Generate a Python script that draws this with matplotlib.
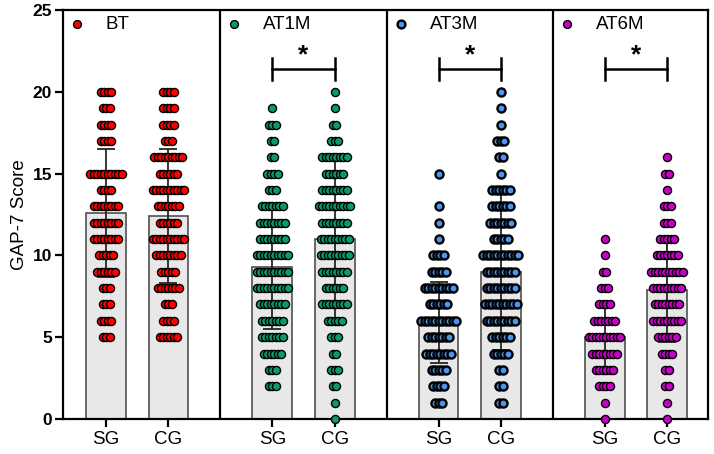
import matplotlib
matplotlib.use("Agg")
import matplotlib.pyplot as plt
import numpy as np

plt.rcParams["font.family"] = ["Liberation Sans", "DejaVu Sans"]

# ---- data ----
TIMEPOINTS = ["BT", "AT1M", "AT3M", "AT6M"]
GROUPS = ["SG", "CG"]
COLORS = ["#ff0000", "#0a9a6c", "#4b96ee", "#c800c8"]
SCORES = list(range(21))  # 0..20, counts below are indexed by score

BT_SG = [0, 0, 0, 0, 0, 3, 4, 3, 3, 6, 5, 8, 8, 8, 4, 10, 0, 4, 4, 3, 4]
BT_CG = [0, 0, 0, 0, 0, 6, 4, 3, 7, 5, 8, 10, 6, 7, 10, 6, 9, 3, 4, 4, 4]
AT1M_SG = [0, 0, 3, 3, 6, 7, 7, 8, 10, 10, 10, 8, 8, 7, 3, 4, 2, 2, 3, 1, 0]
AT1M_CG = [1, 1, 2, 3, 2, 3, 5, 8, 6, 8, 9, 9, 8, 10, 8, 6, 8, 3, 2, 1, 1]
AT3M_SG = [0, 3, 4, 5, 8, 7, 11, 6, 9, 5, 4, 1, 1, 1, 0, 1, 0, 0, 0, 0, 0]
AT3M_CG = [0, 2, 2, 2, 5, 6, 9, 10, 9, 9, 11, 5, 7, 6, 6, 1, 2, 3, 1, 1, 1]
AT6M_SG = [1, 1, 4, 6, 8, 10, 7, 4, 3, 2, 1, 1, 0, 0, 0, 0, 0, 0, 0, 0, 0]
AT6M_CG = [1, 1, 2, 2, 4, 6, 9, 8, 9, 10, 7, 5, 3, 3, 1, 2, 1, 0, 0, 0, 0]

MEANS_SG = [12.6, 9.3, 5.9, 5.0]
MEANS_CG = [12.4, 11.0, 9.0, 7.9]
SD_SG = [3.9, 3.8, 2.45, 1.95]
SD_CG = [4.1, 4.9, 4.8, 3.2]
SIGNIFICANT = [False, True, True, True]

COUNTS = [[BT_SG, BT_CG], [AT1M_SG, AT1M_CG], [AT3M_SG, AT3M_CG], [AT6M_SG, AT6M_CG]]
MEANS = list(zip(MEANS_SG, MEANS_CG))
SDS = list(zip(SD_SG, SD_CG))

# ---- layout ----
PX = 166.2            # pixels per panel (data unit)
PAIR_GAP = 0.375
DOT_STEP = 3.5 / PX
XLIM = (-0.447, 3.434)

fig = plt.figure(figsize=(7.14, 4.54), dpi=100)
ax = fig.add_axes([63 / 714, 1 - 419 / 454, 645 / 714, 409 / 454])

tick_pos = []
for g, tp in enumerate(TIMEPOINTS):
    color = COLORS[g]
    edge_lw = 1.7 if tp == "AT3M" else 1.0
    for j, grp in enumerate(GROUPS):
        x0 = g + (j - 0.5) * PAIR_GAP
        tick_pos.append(x0)
        ax.bar(x0, MEANS[g][j], width=0.24, color="#e8e8e8",
               edgecolor="#505050", linewidth=1.2, zorder=1)
        ax.errorbar(x0, MEANS[g][j], yerr=SDS[g][j], color="#262626",
                    lw=1.3, capsize=6.5, capthick=1.3, zorder=3)
        xs, ys = [], []
        for score, n in zip(SCORES, COUNTS[g][j]):
            offs = (np.arange(n) - (n - 1) / 2) * DOT_STEP
            xs.extend(x0 + offs)
            ys.extend([score] * n)
        ax.scatter(xs, ys, s=34, c=color, edgecolors="black",
                   linewidths=edge_lw, zorder=4, clip_on=False)

    # panel legend
    left = max(g - 0.5, XLIM[0])
    ax.scatter([left + 14 / PX], [24.14], s=32, c=color, edgecolors="black",
               linewidths=edge_lw, zorder=5, clip_on=False)
    ax.text(left + 43 / PX, 24.14, tp, va="center", ha="left", fontsize=13.5)

    if SIGNIFICANT[g]:
        xa, xb = g - PAIR_GAP / 2, g + PAIR_GAP / 2
        ax.plot([xa, xb], [21.4, 21.4], color="black", lw=1.8)
        for xv in (xa, xb):
            ax.plot([xv, xv], [20.72, 22.08], color="black", lw=1.8)
        ax.text(g, 21.8, "*", ha="center", va="baseline",
                fontsize=19, fontweight="bold")

for g in range(len(TIMEPOINTS) - 1):
    ax.axvline(g + 0.5, color="black", lw=1.6, zorder=2)

ax.set_xlim(*XLIM)
ax.set_ylim(0, 25)
ax.set_yticks([0, 5, 10, 15, 20, 25])
ax.set_yticklabels(["0", "5", "10", "15", "20", "25"], fontweight="bold", fontsize=12.5)
ax.set_xticks(tick_pos)
ax.set_xticklabels(GROUPS * len(TIMEPOINTS), fontsize=13.5)
ax.tick_params(axis="y", length=6, width=1.6, pad=2)
ax.tick_params(axis="x", length=6, width=1.6, pad=3)
for sp in ax.spines.values():
    sp.set_linewidth(1.6)
ax.set_ylabel("GAP-7 Score", fontsize=13.5, labelpad=3)

fig.savefig("out.png", dpi=100)
